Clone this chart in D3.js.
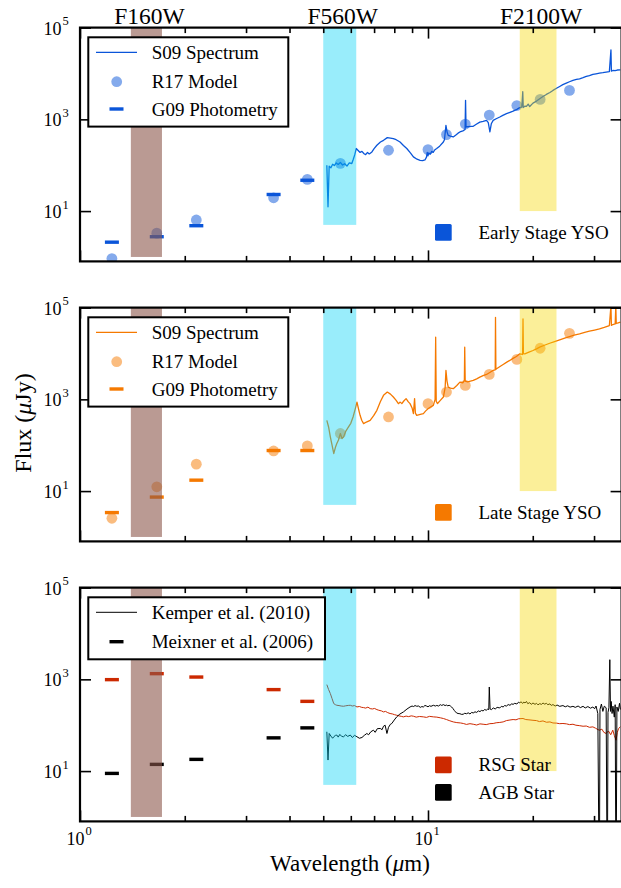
<!DOCTYPE html>
<html><head><meta charset="utf-8">
<script src="https://cdn.jsdelivr.net/npm/d3@7"></script>
<style>
body{margin:0;background:#fff}
svg{display:block}
text{font-family:"Liberation Serif","Times New Roman","DejaVu Serif",serif;fill:#000}
</style>
</head><body>
<svg id="chart" width="621" height="888"></svg>
<script>
// ---------------- DATA ----------------
const filterNames = ["F160W", "F560W", "F2100W"];
const filterLo = [1.40, 5.00, 18.35];
const filterHi = [1.72, 6.22, 23.40];
const filterFloor = [1.0, 5.0, 10.0];

const xMajorTicks = [1, 10];
const xMinorTicks = [2, 3, 4, 5, 6, 7, 8, 9, 20, 30];
const yMajorTicks = [10, 1000, 100000];

const photWave = [1.235, 1.662, 2.159, 3.6, 4.5];
const earlyPhot = [2.1, 2.76, 4.8, 23, 47];
const latePhot = [3.4, 7.4, 17.3, 76.6, 76.6];
const rsgPhot = [985, 1330, 1122, 597, 331];
const agbPhot = [8.9, 14, 18, 53, 87.5];

const modelWave = [1.235, 1.662, 2.159, 3.6, 4.5, 5.6, 7.7, 10.0, 11.3, 12.8, 15.0, 18.0, 21.0, 25.5];
const earlyModel = [0.92, 3.3, 6.4, 19.5, 49, 110, 212, 219, 465, 790, 1240, 2000, 2720, 4270];
const lateModel = [2.55, 12.4, 38.6, 75, 96.6, 180, 413, 806, 1442, 2015, 3490, 7410, 13000, 27500];

const earlyWave = [5.12,5.16,5.20,5.26,5.32,5.38,5.45,5.52,5.60,5.68,5.76,5.85,5.94,6.04,6.10,6.16,6.22,6.30,6.38,6.46,6.55,6.62,6.70,6.78,6.90,7.00,7.13,7.30,7.45,7.64,7.80,7.95,8.10,8.31,8.50,8.69,8.90,9.08,9.30,9.49,9.65,9.80,9.90,9.95,10.0,10.05,10.15,10.25,10.35,10.45,10.59,10.8,11.07,11.15,11.26,11.35,11.43,11.6,11.82,12.0,12.2,12.35,12.6,12.78,12.82,12.86,13.0,13.3,13.49,13.8,14.09,14.4,14.73,14.9,15.06,15.2,15.39,15.7,16.08,16.4,16.81,17.2,17.56,18.0,18.35,18.6,18.72,18.78,19.0,19.18,19.4,19.6,20.03,20.5,20.94,21.4,21.88,22.4,22.86,23.4,23.9,24.4,24.97,25.5,26.09,26.7,27.26,27.9,28.5,29.1,29.77,30.4,31.1,31.8,32.5,33.2,33.55,33.65,33.96,34.5,35.0,35.7];
const earlyFlux = [100,12.4,95,88,105,98,112,104,115,101,108,96,112,109,135,170,231,210,190,200,178,170,190,176,195,230,272,320,349,400,390,380,360,321,270,231,185,152,135,128,126,130,150,190,160,185,175,200,190,215,231,260,320,360,740,520,449,430,413,450,500,531,560,600,2590,680,690,700,705,790,871,900,950,850,531,800,950,1030,1123,1220,1328,1420,1514,1650,1795,1850,4000,1800,1950,1918,2150,1900,2260,2500,2820,3150,3490,3850,4270,4750,5210,5700,6160,6600,7050,7400,7660,8100,8600,9000,9510,9800,10160,10400,10700,11000,32700,11200,11600,11500,11900,12000];

const lateWave = [5.12,5.18,5.24,5.30,5.36,5.42,5.47,5.53,5.60,5.66,5.72,5.80,5.91,6.00,6.09,6.18,6.25,6.32,6.38,6.45,6.53,6.65,6.82,6.98,7.13,7.30,7.45,7.64,7.80,7.95,8.10,8.22,8.32,8.41,8.52,8.65,8.78,8.88,9.00,9.08,9.15,9.20,9.28,9.50,9.70,9.85,10.02,10.2,10.36,10.48,10.52,10.56,10.65,10.85,11.07,11.2,11.26,11.34,11.43,11.6,11.82,12.1,12.35,12.6,12.72,12.75,12.79,13.0,13.49,13.8,14.09,14.4,14.73,15.05,15.39,15.6,15.63,15.67,15.74,16.1,16.44,16.8,17.18,17.55,17.95,18.35,18.7,18.75,18.8,18.97,19.5,20.03,20.5,20.94,21.6,22.37,23.1,23.9,24.7,25.5,26.3,27.26,28.2,29.1,30.1,31.1,32.1,33.2,33.55,33.65,33.96,34.5,34.65,34.75,35.2,35.7];
const lateFlux = [349,250,152,100,66,90,109,130,180,140,152,200,251,300,413,620,871,600,449,350,295,320,349,440,576,900,1222,1442,1300,1123,950,806,870,806,920,1035,880,806,650,490,1035,500,449,470,490,560,630,690,740,1000,22600,900,810,950,1123,1800,4270,2500,1850,1750,1706,2000,2377,2300,2600,13700,2500,2400,2590,2800,3050,3300,3490,3850,4270,4400,61500,4500,4650,5200,5750,6400,7050,7800,8600,9840,9500,56700,9900,9840,10700,11600,12600,13700,15100,16700,18200,19800,21600,23400,25000,26800,28800,30600,32400,34300,37000,40600,110000,41000,42700,44000,110000,45000,46500,48000];

const rsgWave = [5.12,5.18,5.24,5.30,5.36,5.42,5.47,5.55,5.63,5.72,5.80,5.90,5.98,6.06,6.15,6.25,6.35,6.45,6.53,6.62,6.72,6.82,6.92,7.02,7.13,7.22,7.35,7.45,7.55,7.66,7.78,7.90,8.01,8.13,8.25,8.38,8.5,8.65,8.8,8.95,9.08,9.25,9.45,9.7,9.9,10.1,10.36,10.6,10.85,11.07,11.3,11.55,11.82,12.1,12.4,12.63,12.9,13.2,13.49,13.8,14.1,14.4,14.7,15.05,15.39,15.7,16.08,16.44,16.8,17.2,17.56,17.9,18.2,18.75,19.1,19.5,20.03,20.5,20.9,21.4,21.9,22.4,22.86,23.4,23.9,24.42,25.0,25.5,26.09,26.6,27.2,27.9,28.5,29.1,29.77,30.3,30.8,31.1,31.6,32.0,32.5,33.0,33.5,33.96,34.3,34.7,35.0,35.3,35.7];
const rsgFlux = [767,600,490,380,296,280,272,268,262,259,265,270,272,262,268,250,256,245,242,236,248,230,226,232,219,212,205,195,200,188,180,176,170,165,160,156,152,158,154,160,157,150,155,152,148,156,152,150,145,140,133,125,118,114,112,109,104,108,105,101,107,105,103,108,109,113,115,118,126,130,133,131,138,140,133,131,128,126,120,124,116,118,112,111,108,109,107,103,105,100,98,95,96,90,92,86,80,78,82,70,66,75,62,78,60,47,70,85,92];

const agbWave = [5.12,5.16,5.20,5.26,5.32,5.36,5.42,5.47,5.52,5.58,5.65,5.72,5.80,5.88,5.98,6.06,6.15,6.25,6.35,6.46,6.56,6.67,6.75,6.85,6.97,7.05,7.15,7.29,7.38,7.45,7.53,7.62,7.70,7.80,7.87,8.0,8.13,8.3,8.5,8.7,8.88,9.0,9.08,9.18,9.28,9.4,9.5,9.6,9.7,9.8,9.9,10.0,10.1,10.2,10.36,10.5,10.6,10.72,10.85,10.95,11.07,11.2,11.3,11.4,11.5,11.6,11.69,11.8,11.9,12.0,12.08,12.2,12.35,12.5,12.63,12.75,12.9,13.05,13.2,13.35,13.49,13.65,13.8,13.95,14.1,14.25,14.4,14.55,14.7,14.85,14.95,15.0,15.08,15.22,15.4,15.6,15.8,16.08,16.25,16.44,16.6,16.81,17.0,17.2,17.4,17.56,17.75,18.0,18.2,18.35,18.5,18.7,18.85,19.0,19.18,19.35,19.6,19.8,20.03,20.3,20.5,20.7,20.94,21.2,21.4,21.65,21.88,22.1,22.4,22.6,22.86,23.2,23.5,23.9,24.42,24.8,25.2,25.6,26.09,26.5,27.0,27.4,27.9,28.3,28.8,29.3,29.77,30.1,30.4,30.76,31.07,31.2,31.5,31.8,32.1,32.5,32.75,32.9,33.1,33.3,33.45,33.6,33.8,34.0,34.3,34.5,34.7,34.9,35.2,35.5,35.7];
const agbFlux = [72,17.4,66,58,52,56,60,61,55,63,57,56,62,57,61,54,60,56,52,54,60,66,62,72,78,70,84,85,80,95,100,66,90,105,109,130,152,175,195,225,250,262,255,268,259,262,245,255,250,270,262,252,266,258,272,262,270,262,280,270,281,268,275,265,272,262,250,230,210,195,185,180,178,172,174,182,178,186,176,190,185,196,190,205,198,210,205,220,212,225,218,681,225,219,238,226,245,238,258,250,268,262,282,272,292,285,300,290,318,305,325,298,320,305,330,295,310,285,305,285,300,278,295,285,305,288,300,280,292,270,282,262,275,258,268,252,265,248,258,245,262,242,258,238,255,235,250,228,262,180,0.01,220,290,200,260,240,0.01,190,240,2680,200,330,180,260,150,280,0.01,250,200,300,220];

const legendTop = ["S09 Spectrum", "R17 Model", "G09 Photometry"];
const legendBottom = ["Kemper et al. (2010)", "Meixner et al. (2006)"];
const classNames = [["Early Stage YSO"], ["Late Stage YSO"], ["RSG Star", "AGB Star"]];

// ---------------- STYLE ----------------
const BLUE = "#0a55d9", ORANGE = "#f57900", RED = "#cc2900", BLACK = "#000000";
const bandFill = ["rgba(140,86,75,0.6)", "rgba(0,210,245,0.4)", "rgba(245,215,0,0.4)"];

const svg = d3.select("#chart");
const left = 80, right = 621.6, ph = 233.8;
const tops = [27.6, 307.6, 587.6];

const x = d3.scaleLog().domain([1, 36]).range([left, right]);
const mkY = top => d3.scaleLog().domain([0.8, 1e5]).range([top + ph, top]);

const zip = (a, b) => a.map((v, i) => [v, b[i]]);

const panels = [
  {spectra: [{w: earlyWave, f: earlyFlux, c: BLUE, lw: 1.3}],
   phot: [{f: earlyPhot, c: BLUE}], model: {f: earlyModel, c: BLUE},
   legend: "top", color: BLUE, classes: [{name: classNames[0][0], c: BLUE}]},
  {spectra: [{w: lateWave, f: lateFlux, c: ORANGE, lw: 1.3}],
   phot: [{f: latePhot, c: ORANGE}], model: {f: lateModel, c: ORANGE},
   legend: "top", color: ORANGE, classes: [{name: classNames[1][0], c: ORANGE}]},
  {spectra: [{w: rsgWave, f: rsgFlux, c: RED, lw: 1.0}, {w: agbWave, f: agbFlux, c: BLACK, lw: 1.0}],
   phot: [{f: rsgPhot, c: RED}, {f: agbPhot, c: BLACK}], model: null,
   legend: "bottom", color: BLACK,
   classes: [{name: classNames[2][0], c: RED}, {name: classNames[2][1], c: BLACK}]}
];

const defs = svg.append("defs");

panels.forEach((p, i) => {
  const top = tops[i];
  const y = mkY(top);
  const g = svg.append("g");
  const clipId = "clip" + i;
  defs.append("clipPath").attr("id", clipId).append("rect")
    .attr("x", left).attr("y", top).attr("width", right - left).attr("height", ph);
  const inner = g.append("g").attr("clip-path", `url(#${clipId})`);

  // spectra
  p.spectra.forEach(s => {
    inner.append("path")
      .datum(zip(s.w, s.f))
      .attr("fill", "none").attr("stroke", s.c).attr("stroke-width", s.lw)
      .attr("stroke-linejoin", "round")
      .attr("d", d3.line().x(d => x(d[0])).y(d => y(d[1])));
  });
  // model circles
  if (p.model) {
    inner.selectAll(null).data(zip(modelWave, p.model.f)).join("circle")
      .attr("cx", d => x(d[0])).attr("cy", d => y(d[1])).attr("r", 5.4)
      .attr("fill", p.model.c).attr("fill-opacity", 0.5);
  }
  // photometry dashes
  p.phot.forEach(ph_ => {
    inner.selectAll(null).data(zip(photWave, ph_.f)).join("rect")
      .attr("x", d => x(d[0]) - 7).attr("y", d => y(d[1]) - 1.7)
      .attr("width", 14).attr("height", 3.4).attr("fill", ph_.c);
  });
  // filter bands (drawn on top, semi-transparent)
  filterNames.forEach((n, k) => {
    inner.append("rect")
      .attr("x", x(filterLo[k])).attr("width", x(filterHi[k]) - x(filterLo[k]))
      .attr("y", y(1e5)).attr("height", y(filterFloor[k]) - y(1e5))
      .attr("fill", bandFill[k]);
  });

  // ticks via d3 axes (inward)
  const axB = d3.axisBottom(x).tickValues(xMajorTicks).tickSizeInner(-11).tickSizeOuter(0).tickFormat("");
  const axBm = d3.axisBottom(x).tickValues(xMinorTicks).tickSizeInner(-5.5).tickSizeOuter(0).tickFormat("");
  const axT = d3.axisTop(x).tickValues(xMajorTicks).tickSizeInner(-11).tickSizeOuter(0).tickFormat("");
  const axTm = d3.axisTop(x).tickValues(xMinorTicks).tickSizeInner(-5.5).tickSizeOuter(0).tickFormat("");
  const axL = d3.axisLeft(y).tickValues(yMajorTicks).tickSizeInner(-11).tickSizeOuter(0).tickFormat("");
  const axR = d3.axisRight(y).tickValues(yMajorTicks).tickSizeInner(-11).tickSizeOuter(0).tickFormat("");
  [[axB, `translate(0,${top + ph})`], [axBm, `translate(0,${top + ph})`],
   [axT, `translate(0,${top})`], [axTm, `translate(0,${top})`],
   [axL, `translate(${left},0)`], [axR, `translate(${right},0)`]].forEach(([ax, tr]) => {
    const a = g.append("g").attr("transform", tr).call(ax);
    a.select(".domain").remove();
    a.selectAll(".tick line").attr("stroke", "#000").attr("stroke-width", 1.6);
  });

  // y tick labels
  yMajorTicks.forEach(v => {
    g.append("text").attr("x", 61.5).attr("y", y(v) + 7).attr("text-anchor", "end")
      .attr("font-size", 18).text("10");
    g.append("text").attr("x", 62.5).attr("y", y(v) - 2.5).attr("font-size", 12.5)
      .text(String(Math.round(Math.log10(v))));
  });

  // spines
  g.append("rect").attr("x", left).attr("y", top).attr("width", right - left).attr("height", ph)
    .attr("fill", "none").attr("stroke", "#000").attr("stroke-width", 2.2);

  // legend box
  if (p.legend === "top") {
    const lg = g.append("g");
    lg.append("rect").attr("x", 88.3).attr("y", top + 9.7).attr("width", 200).attr("height", 89.3)
      .attr("fill", "#fff").attr("stroke", "#000").attr("stroke-width", 2);
    const rows = [top + 24.7, top + 54.1, top + 81.4];
    lg.append("line").attr("x1", 96).attr("x2", 137).attr("y1", rows[0]).attr("y2", rows[0])
      .attr("stroke", p.color).attr("stroke-width", 1.3);
    lg.append("circle").attr("cx", 116.7).attr("cy", rows[1]).attr("r", 5.4)
      .attr("fill", p.color).attr("fill-opacity", 0.5);
    lg.append("rect").attr("x", 109.5).attr("y", rows[2] - 1.7).attr("width", 14).attr("height", 3.4)
      .attr("fill", p.color);
    legendTop.forEach((t, k) => lg.append("text").attr("x", 151.7).attr("y", rows[k] + 6.5)
      .attr("font-size", 19).text(t));
  } else {
    const lg = g.append("g");
    lg.append("rect").attr("x", 88.3).attr("y", top + 9.7).attr("width", 236.7).attr("height", 62)
      .attr("fill", "#fff").attr("stroke", "#000").attr("stroke-width", 2);
    const rows = [top + 24.7, top + 54.1];
    lg.append("line").attr("x1", 96).attr("x2", 137).attr("y1", rows[0]).attr("y2", rows[0])
      .attr("stroke", "#000").attr("stroke-width", 1.0);
    lg.append("rect").attr("x", 109.5).attr("y", rows[1] - 1.7).attr("width", 14).attr("height", 3.4)
      .attr("fill", "#000");
    legendBottom.forEach((t, k) => lg.append("text").attr("x", 151.7).attr("y", rows[k] + 6.5)
      .attr("font-size", 19).text(t));
  }

  // class legend (lower right)
  const n = p.classes.length;
  p.classes.forEach((c, k) => {
    const cy = top + 204.7 - (n - 1 - k) * 27.4;
    g.append("rect").attr("x", 435).attr("y", cy - 8.3).attr("width", 16.7).attr("height", 16.7)
      .attr("rx", 1.5).attr("fill", c.c);
    g.append("text").attr("x", 478.5).attr("y", cy + 6.5).attr("font-size", 19).text(c.name);
  });

  // x tick labels only on bottom panel
  if (i === 2) {
    xMajorTicks.forEach(v => {
      g.append("text").attr("x", x(v) + 4.5).attr("y", top + ph + 23.5).attr("text-anchor", "end")
        .attr("font-size", 18).text("10");
      g.append("text").attr("x", x(v) + 5.5).attr("y", top + ph + 14).attr("font-size", 12.5)
        .text(String(Math.round(Math.log10(v))));
    });
  }
});

// filter labels at top
filterNames.forEach((n, k) => {
  svg.append("text").attr("x", x(Math.sqrt(filterLo[k] * filterHi[k])) + 3).attr("y", 24)
    .attr("text-anchor", "middle").attr("font-size", 23.5).text(n);
});

// axis labels
svg.append("text").attr("x", 350).attr("y", 870.5).attr("text-anchor", "middle").attr("font-size", 23)
  .html('Wavelength (<tspan font-style="italic">μ</tspan>m)');
svg.append("text").attr("transform", "translate(31,423) rotate(-90)").attr("text-anchor", "middle")
  .attr("font-size", 24).html('Flux (<tspan font-style="italic">μ</tspan>Jy)');
</script>
</body></html>
